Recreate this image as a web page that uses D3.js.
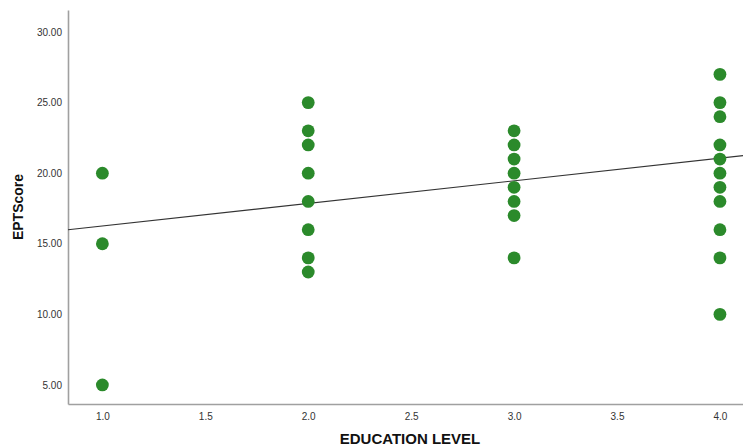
<!DOCTYPE html>
<html>
<head>
<meta charset="utf-8">
<script src="https://cdn.jsdelivr.net/npm/d3@7/dist/d3.min.js"></script>
<style>
  html, body { margin: 0; padding: 0; background: #fff; }
  svg { display: block; font-family: "Liberation Sans", Arial, sans-serif; }
</style>
</head>
<body>
<svg id="chart" width="743" height="448"></svg>
<script>
// Education level of each respondent and the EPT score they obtained
const educationLevel = [
  1, 1, 1,
  2, 2, 2, 2, 2, 2, 2, 2,
  3, 3, 3, 3, 3, 3, 3, 3,
  4, 4, 4, 4, 4, 4, 4, 4, 4, 4, 4
];
const eptScore = [
  20, 15, 5,
  25, 23, 22, 20, 18, 16, 14, 13,
  23, 22, 21, 20, 19, 18, 17, 14,
  27, 25, 24, 22, 21, 20, 19, 18, 16, 14, 10
];

// Linear fit line (total)
const fitIntercept = 14.66;
const fitSlope = 1.60;

// Axis tick values
const xTicks = [1.0, 1.5, 2.0, 2.5, 3.0, 3.5, 4.0];
const yTicks = [5, 10, 15, 20, 25, 30];

const svg = d3.select("#chart");
const W = 743, H = 448;
const margin = { left: 68, right: 0, top: 10, bottom: 44 };

const x = d3.scaleLinear().domain([0.833, 4.112]).range([margin.left, W - margin.right]);
const y = d3.scaleLinear().domain([3.65, 31.56]).range([H - margin.bottom, margin.top]);

const points = educationLevel.map((e, i) => ({ x: e, y: eptScore[i] }));

// X axis
const xAxis = svg.append("g")
  .attr("transform", `translate(0,${H - margin.bottom})`)
  .call(d3.axisBottom(x).tickValues(xTicks).tickFormat(d3.format(".1f")).tickSize(0).tickPadding(9));
xAxis.select(".domain").attr("stroke", "#a0a0a0").attr("stroke-width", 1.6);
xAxis.selectAll("text").attr("font-size", 10).attr("fill", "#333")
  .attr("font-family", "Liberation Sans, Arial, sans-serif");

// Y axis
const yAxis = svg.append("g")
  .attr("transform", `translate(${margin.left},0)`)
  .call(d3.axisLeft(y).tickValues(yTicks).tickFormat(d3.format(".2f")).tickSize(0).tickPadding(6));
yAxis.select(".domain").attr("stroke", "#a0a0a0").attr("stroke-width", 1.6);
yAxis.selectAll("text").attr("font-size", 10).attr("fill", "#333")
  .attr("font-family", "Liberation Sans, Arial, sans-serif");

// Fit line across the whole x range
const [x0, x1] = x.domain();
svg.append("line")
  .attr("x1", x(x0)).attr("y1", y(fitIntercept + fitSlope * x0))
  .attr("x2", x(x1)).attr("y2", y(fitIntercept + fitSlope * x1))
  .attr("stroke", "#333").attr("stroke-width", 1.2);

// Points
svg.append("g").selectAll("circle")
  .data(points)
  .join("circle")
  .attr("cx", d => x(d.x))
  .attr("cy", d => y(d.y))
  .attr("r", 6.4)
  .attr("fill", "#2b8a2b");

// Axis titles
svg.append("text")
  .attr("x", 410)
  .attr("y", 444)
  .attr("text-anchor", "middle")
  .attr("font-size", 15)
  .attr("font-weight", "bold")
  .attr("fill", "#111")
  .text("EDUCATION LEVEL");

svg.append("text")
  .attr("transform", `translate(23,${(margin.top + H - margin.bottom) / 2}) rotate(-90)`)
  .attr("text-anchor", "middle")
  .attr("font-size", 14)
  .attr("font-weight", "bold")
  .attr("fill", "#111")
  .text("EPTScore");
</script>
</body>
</html>
